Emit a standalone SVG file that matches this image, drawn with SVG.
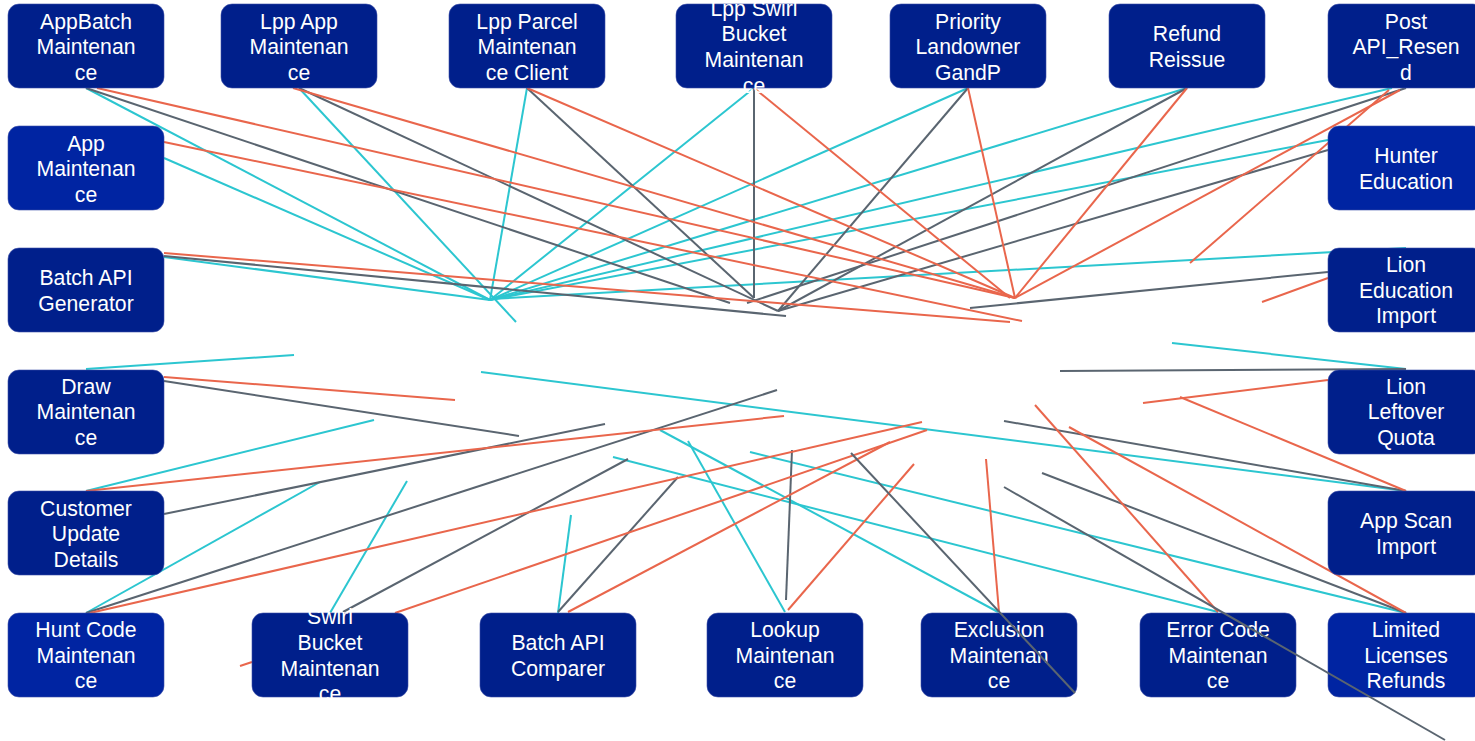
<svg xmlns="http://www.w3.org/2000/svg" width="1475" height="741" viewBox="0 0 1475 741">
<style>
.c{stroke:#2cc6d0;stroke-width:2;fill:none}
.g{stroke:#5a6570;stroke-width:2;fill:none}
.o{stroke:#e9664c;stroke-width:2;fill:none}
.n{fill:#001f8b;stroke:#3a4ea8;stroke-width:0.6}
.nb{fill:#0024a2;stroke:#3a4ea8;stroke-width:0.6}
text{font-family:"Liberation Sans",Arial,sans-serif;font-size:21.2px;fill:#ffffff;text-anchor:middle}
</style>
<rect width="1475" height="741" fill="#ffffff"/>
<g id="connectors">
<line class="c" x1="86" y1="88" x2="490" y2="300"/>
<line class="c" x1="164" y1="158" x2="490" y2="300"/>
<line class="c" x1="164" y1="257" x2="490" y2="300"/>
<line class="c" x1="299" y1="88" x2="516" y2="322"/>
<line class="c" x1="527" y1="88" x2="490" y2="300"/>
<line class="c" x1="754" y1="88" x2="490" y2="300"/>
<line class="c" x1="968" y1="88" x2="490" y2="300"/>
<line class="c" x1="1187" y1="88" x2="490" y2="300"/>
<line class="c" x1="1392" y1="88" x2="490" y2="300"/>
<line class="c" x1="1328" y1="140" x2="490" y2="300"/>
<line class="c" x1="1406" y1="248" x2="490" y2="299"/>
<line class="c" x1="86" y1="369" x2="294" y2="355"/>
<line class="c" x1="86" y1="491" x2="374" y2="420"/>
<line class="c" x1="86" y1="613" x2="320" y2="482"/>
<line class="c" x1="330" y1="613" x2="407" y2="481"/>
<line class="c" x1="558" y1="613" x2="571" y2="515"/>
<line class="c" x1="785" y1="612" x2="688" y2="441"/>
<line class="c" x1="998" y1="612" x2="660" y2="430"/>
<line class="c" x1="1218" y1="612" x2="613" y2="457"/>
<line class="c" x1="1406" y1="613" x2="750" y2="452"/>
<line class="c" x1="1406" y1="491" x2="481" y2="372"/>
<line class="c" x1="1406" y1="369" x2="1172" y2="343"/>
<line class="g" x1="86" y1="88" x2="730" y2="303"/>
<line class="g" x1="299" y1="88" x2="778" y2="311"/>
<line class="g" x1="527" y1="88" x2="754" y2="298"/>
<line class="g" x1="754" y1="88" x2="754" y2="298"/>
<line class="g" x1="968" y1="88" x2="778" y2="311"/>
<line class="g" x1="1187" y1="88" x2="778" y2="311"/>
<line class="g" x1="1406" y1="88" x2="747" y2="303"/>
<line class="g" x1="1328" y1="150" x2="778" y2="311"/>
<line class="g" x1="164" y1="256" x2="786" y2="316"/>
<line class="g" x1="1328" y1="272" x2="970" y2="308"/>
<line class="g" x1="164" y1="381" x2="519" y2="436"/>
<line class="g" x1="164" y1="514" x2="605" y2="424"/>
<line class="g" x1="86" y1="613" x2="777" y2="390"/>
<line class="g" x1="343" y1="612" x2="628" y2="459"/>
<line class="g" x1="558" y1="612" x2="678" y2="477"/>
<line class="g" x1="786" y1="600" x2="792" y2="450"/>
<line class="g" x1="1406" y1="369" x2="1060" y2="371"/>
<line class="g" x1="1406" y1="491" x2="1004" y2="421"/>
<line class="g" x1="1406" y1="613" x2="1042" y2="473"/>
<line class="o" x1="97" y1="88" x2="1015" y2="298"/>
<line class="o" x1="293" y1="88" x2="1015" y2="298"/>
<line class="o" x1="527" y1="88" x2="1015" y2="298"/>
<line class="o" x1="754" y1="88" x2="1010" y2="298"/>
<line class="o" x1="968" y1="88" x2="1015" y2="298"/>
<line class="o" x1="1187" y1="88" x2="1015" y2="298"/>
<line class="o" x1="1400" y1="90" x2="1015" y2="298"/>
<line class="o" x1="1389" y1="90" x2="1190" y2="263"/>
<line class="o" x1="164" y1="142" x2="1022" y2="321"/>
<line class="o" x1="164" y1="253" x2="1010" y2="322"/>
<line class="o" x1="1328" y1="278" x2="1262" y2="302"/>
<line class="o" x1="164" y1="377" x2="455" y2="400"/>
<line class="o" x1="86" y1="491" x2="784" y2="416"/>
<line class="o" x1="90" y1="613" x2="922" y2="422"/>
<line class="o" x1="395" y1="613" x2="927" y2="430"/>
<line class="o" x1="568" y1="612" x2="890" y2="442"/>
<line class="o" x1="788" y1="610" x2="914" y2="464"/>
<line class="o" x1="999" y1="612" x2="986" y2="459"/>
<line class="o" x1="1218" y1="612" x2="1035" y2="405"/>
<line class="o" x1="1406" y1="613" x2="1069" y2="427"/>
<line class="o" x1="1406" y1="491" x2="1180" y2="397"/>
<line class="o" x1="1328" y1="380" x2="1143" y2="403"/>
<line class="o" x1="240" y1="666" x2="252" y2="662"/>
</g>
<g id="appbatch-maintenance"><rect class="n" x="8" y="4" width="156" height="84" rx="11"/><text x="86" y="29">AppBatch</text><text x="86" y="54">Maintenan</text><text x="86" y="80">ce</text></g>
<g id="lpp-app-maintenance"><rect class="n" x="221" y="4" width="156" height="84" rx="11"/><text x="299" y="29">Lpp App</text><text x="299" y="54">Maintenan</text><text x="299" y="80">ce</text></g>
<g id="lpp-parcel-maintenance-client"><rect class="n" x="449" y="4" width="156" height="84" rx="11"/><text x="527" y="29">Lpp Parcel</text><text x="527" y="54">Maintenan</text><text x="527" y="80">ce Client</text></g>
<g id="lpp-swirl-bucket-maintenance"><rect class="n" x="676" y="4" width="156" height="84" rx="11"/><text x="754" y="16">Lpp Swirl</text><text x="754" y="41">Bucket</text><text x="754" y="67">Maintenan</text><text x="754" y="93">ce</text></g>
<g id="priority-landowner-gandp"><rect class="n" x="890" y="4" width="156" height="84" rx="11"/><text x="968" y="29">Priority</text><text x="968" y="54">Landowner</text><text x="968" y="80">GandP</text></g>
<g id="refund-reissue"><rect class="n" x="1109" y="4" width="156" height="84" rx="11"/><text x="1187" y="41">Refund</text><text x="1187" y="67">Reissue</text></g>
<g id="post-api-resend"><rect class="n" x="1328" y="4" width="156" height="84" rx="11"/><text x="1406" y="29">Post</text><text x="1406" y="54">API_Resen</text><text x="1406" y="80">d</text></g>
<g id="app-maintenance"><rect class="nb" x="8" y="126" width="156" height="84" rx="11"/><text x="86" y="151">App</text><text x="86" y="176">Maintenan</text><text x="86" y="202">ce</text></g>
<g id="hunter-education"><rect class="nb" x="1328" y="126" width="156" height="84" rx="11"/><text x="1406" y="163">Hunter</text><text x="1406" y="189">Education</text></g>
<g id="batch-api-generator"><rect class="n" x="8" y="248" width="156" height="84" rx="11"/><text x="86" y="285">Batch API</text><text x="86" y="311">Generator</text></g>
<g id="lion-education-import"><rect class="n" x="1328" y="248" width="156" height="84" rx="11"/><text x="1406" y="272">Lion</text><text x="1406" y="298">Education</text><text x="1406" y="323">Import</text></g>
<g id="draw-maintenance"><rect class="n" x="8" y="370" width="156" height="84" rx="11"/><text x="86" y="394">Draw</text><text x="86" y="419">Maintenan</text><text x="86" y="445">ce</text></g>
<g id="lion-leftover-quota"><rect class="n" x="1328" y="370" width="156" height="84" rx="11"/><text x="1406" y="394">Lion</text><text x="1406" y="419">Leftover</text><text x="1406" y="445">Quota</text></g>
<g id="customer-update-details"><rect class="n" x="8" y="491" width="156" height="84" rx="11"/><text x="86" y="516">Customer</text><text x="86" y="541">Update</text><text x="86" y="567">Details</text></g>
<g id="app-scan-import"><rect class="n" x="1328" y="491" width="156" height="84" rx="11"/><text x="1406" y="528">App Scan</text><text x="1406" y="554">Import</text></g>
<g id="hunt-code-maintenance"><rect class="nb" x="8" y="613" width="156" height="84" rx="11"/><text x="86" y="637">Hunt Code</text><text x="86" y="663">Maintenan</text><text x="86" y="688">ce</text></g>
<g id="swirl-bucket-maintenance"><rect class="n" x="252" y="613" width="156" height="84" rx="11"/><text x="330" y="624">Swirl</text><text x="330" y="650">Bucket</text><text x="330" y="676">Maintenan</text><text x="330" y="701">ce</text></g>
<g id="batch-api-comparer"><rect class="n" x="480" y="613" width="156" height="84" rx="11"/><text x="558" y="650">Batch API</text><text x="558" y="676">Comparer</text></g>
<g id="lookup-maintenance"><rect class="n" x="707" y="613" width="156" height="84" rx="11"/><text x="785" y="637">Lookup</text><text x="785" y="663">Maintenan</text><text x="785" y="688">ce</text></g>
<g id="exclusion-maintenance"><rect class="n" x="921" y="613" width="156" height="84" rx="11"/><text x="999" y="637">Exclusion</text><text x="999" y="663">Maintenan</text><text x="999" y="688">ce</text></g>
<g id="error-code-maintenance"><rect class="n" x="1140" y="613" width="156" height="84" rx="11"/><text x="1218" y="637">Error Code</text><text x="1218" y="663">Maintenan</text><text x="1218" y="688">ce</text></g>
<g id="limited-licenses-refunds"><rect class="nb" x="1328" y="613" width="156" height="84" rx="11"/><text x="1406" y="637">Limited</text><text x="1406" y="663">Licenses</text><text x="1406" y="688">Refunds</text></g>
<g id="connectors-over">
<line class="g" x1="851" y1="453" x2="1075" y2="693"/>
<line class="g" x1="1004" y1="487" x2="1445" y2="740"/>
</g>
</svg>
